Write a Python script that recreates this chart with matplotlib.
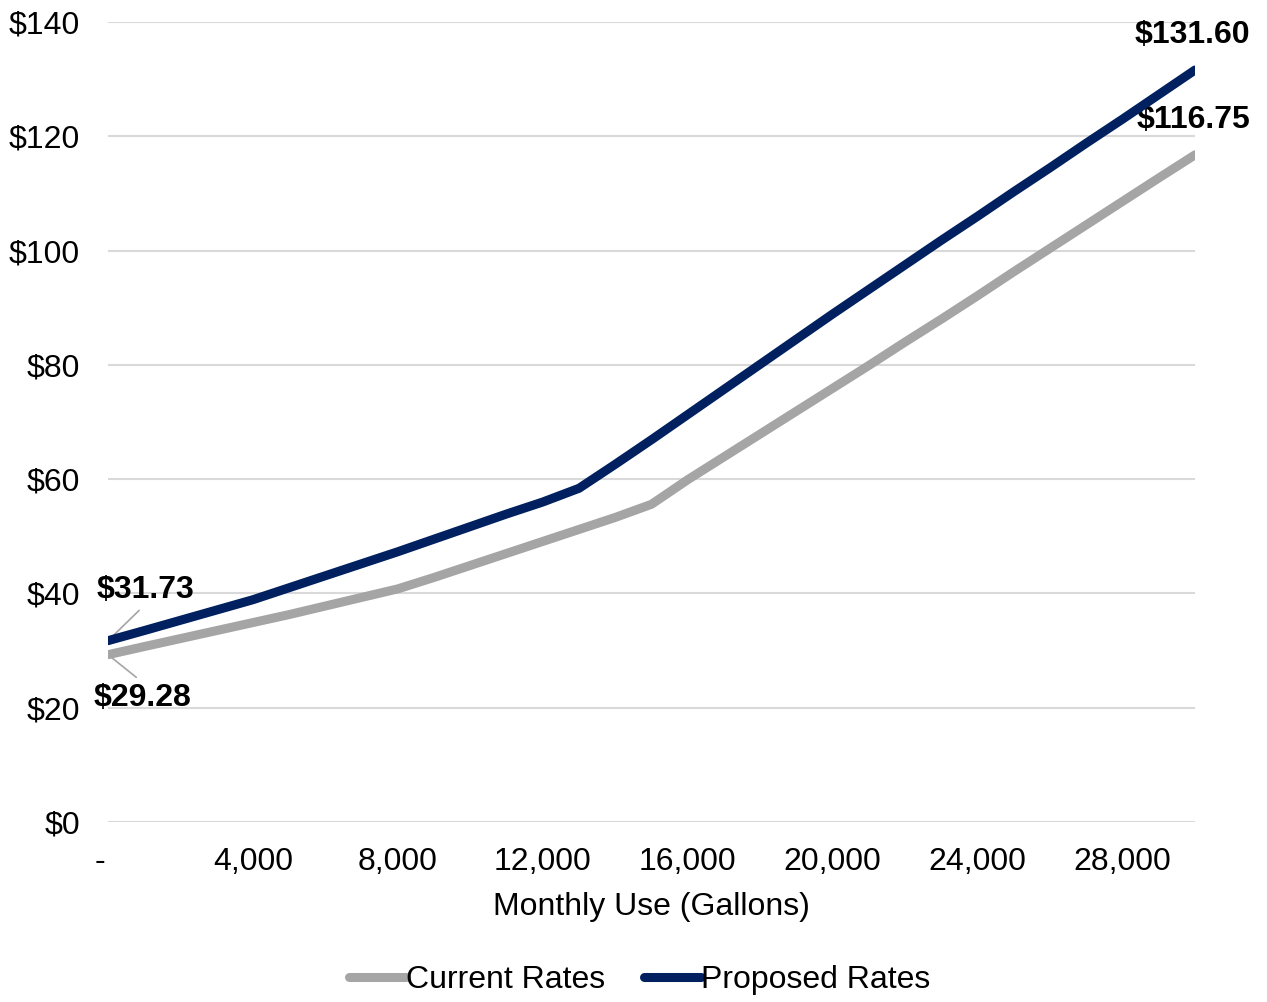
import matplotlib
matplotlib.use("Agg")
import matplotlib.pyplot as plt
import matplotlib.transforms as mtransforms
from matplotlib.ticker import FuncFormatter

plt.rcParams['font.family'] = ['Liberation Sans', 'DejaVu Sans']

gallons = [0, 1000, 2000, 3000, 4000, 5000, 6000, 7000, 8000, 9000, 10000,
           11000, 12000, 13000, 14000, 15000, 16000, 17000, 18000, 19000, 20000,
           21000, 22000, 23000, 24000, 25000, 26000, 27000, 28000, 29000, 30000]
current_rates = [29.28, 30.7, 32.1, 33.5, 34.9, 36.3, 37.8, 39.3, 40.8, 42.8, 44.9,
                 47.0, 49.1, 51.2, 53.3, 55.6, 59.9, 63.9, 67.9, 71.9, 75.9,
                 79.9, 84.0, 88.0, 92.1, 96.3, 100.4, 104.5, 108.6, 112.7, 116.75]
proposed_rates = [31.73, 33.5, 35.3, 37.1, 38.9, 41.0, 43.1, 45.2, 47.3, 49.5, 51.7,
                  53.9, 56.0, 58.4, 62.6, 66.9, 71.3, 75.7, 80.1, 84.5, 88.9,
                  93.2, 97.5, 101.8, 106.0, 110.3, 114.5, 118.8, 123.0, 127.3, 131.60]
series_names = ["Current Rates", "Proposed Rates"]
x_ticks = [0, 4000, 8000, 12000, 16000, 20000, 24000, 28000]
y_ticks = [0, 20, 40, 60, 80, 100, 120, 140]

GRAY = "#A5A5A5"
NAVY = "#002060"
FS = 23

fig = plt.figure(figsize=(12.67, 10.02), dpi=100)
ax = fig.add_axes([108/1267, 1-822/1002, (1195-108)/1267, (822-22)/1002])

l1, = ax.plot(gallons, current_rates, color=GRAY, lw=6.5, solid_capstyle='round',
              label=series_names[0], zorder=3)
l2, = ax.plot(gallons, proposed_rates, color=NAVY, lw=6.5, solid_capstyle='round',
              label=series_names[1], zorder=4)

ax.set_xlim(0, 30000)
ax.set_ylim(0, 140)
ax.set_yticks(y_ticks)
ax.set_xticks(x_ticks)
ax.yaxis.set_major_formatter(FuncFormatter(lambda v, p: f"${v:.0f}"))
ax.xaxis.set_major_formatter(FuncFormatter(lambda v, p: "-" if v == 0 else f"{v:,.0f}"))
ax.tick_params(axis='both', length=0, labelsize=FS, colors='black')
ax.tick_params(axis='y', pad=20)
ax.tick_params(axis='x', pad=18)
for s in ax.spines.values():
    s.set_visible(False)
ax.grid(axis='y', color='#D9D9D9', lw=1.5, zorder=0)
ax.set_axisbelow(True)

# shift the "-" zero label slightly left, as in the reference
first_lbl = ax.get_xticklabels()[0]
first_lbl.set_transform(first_lbl.get_transform() +
                        mtransforms.ScaledTranslation(-8/100, 0, fig.dpi_scale_trans))

ax.set_xlabel("Monthly Use (Gallons)", fontsize=FS, labelpad=11)

ax.annotate(f"${proposed_rates[0]:.2f}", xy=(gallons[0], proposed_rates[0]),
            xytext=(37, 51), textcoords='offset pixels', ha='center', va='center',
            fontsize=FS, fontweight='bold', annotation_clip=False,
            arrowprops=dict(arrowstyle='-', color=GRAY, lw=1.2, shrinkA=3, shrinkB=1,
                            relpos=(0.5, 0.0)))
ax.annotate(f"${current_rates[0]:.2f}", xy=(gallons[0], current_rates[0]),
            xytext=(35, -43), textcoords='offset pixels', ha='center', va='center',
            fontsize=FS, fontweight='bold', annotation_clip=False,
            arrowprops=dict(arrowstyle='-', color=GRAY, lw=1.2, shrinkA=3, shrinkB=1,
                            relpos=(0.5, 1.0)))
ax.annotate(f"${proposed_rates[-1]:.2f}", xy=(gallons[-1], proposed_rates[-1]),
            xytext=(55, 35), textcoords='offset pixels', ha='right', va='center',
            fontsize=FS, fontweight='bold', annotation_clip=False)
ax.annotate(f"${current_rates[-1]:.2f}", xy=(gallons[-1], current_rates[-1]),
            xytext=(55, 35), textcoords='offset pixels', ha='right', va='center',
            fontsize=FS, fontweight='bold', annotation_clip=False)

fig.legend(handles=[l1, l2], loc='center', bbox_to_anchor=(0.505, 1-980/1002),
           ncol=2, frameon=False, fontsize=FS, handlelength=1.8, handletextpad=0.0,
           columnspacing=1.2)

fig.savefig("out.png", dpi=100, facecolor='white')
